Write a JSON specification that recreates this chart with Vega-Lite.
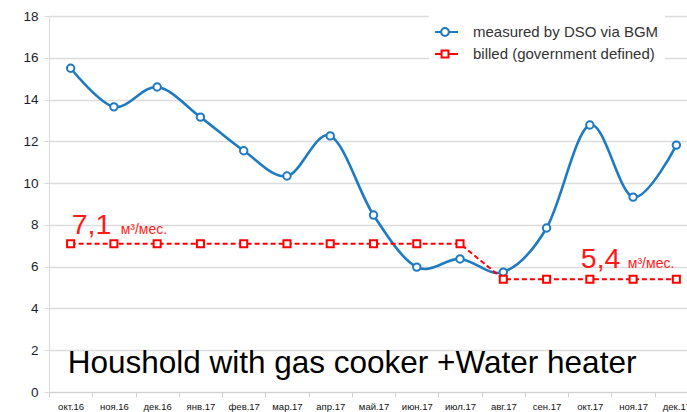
{
  "$schema": "https://vega.github.io/schema/vega-lite/v6.json",
  "width": 649,
  "height": 376,
  "autosize": {"type": "none"},
  "padding": {"left": 49, "top": 16, "right": 0, "bottom": 20},
  "background": "white",
  "datasets": {
    "series": [
      {"month": "окт.16", "series": "measured by DSO via BGM", "value": 15.5},
      {"month": "ноя.16", "series": "measured by DSO via BGM", "value": 13.65},
      {"month": "дек.16", "series": "measured by DSO via BGM", "value": 14.6},
      {"month": "янв.17", "series": "measured by DSO via BGM", "value": 13.16},
      {"month": "фев.17", "series": "measured by DSO via BGM", "value": 11.55},
      {"month": "мар.17", "series": "measured by DSO via BGM", "value": 10.34},
      {"month": "апр.17", "series": "measured by DSO via BGM", "value": 12.26},
      {"month": "май.17", "series": "measured by DSO via BGM", "value": 8.47},
      {"month": "июн.17", "series": "measured by DSO via BGM", "value": 5.98},
      {"month": "июл.17", "series": "measured by DSO via BGM", "value": 6.37},
      {"month": "авг.17", "series": "measured by DSO via BGM", "value": 5.74},
      {"month": "сен.17", "series": "measured by DSO via BGM", "value": 7.85},
      {"month": "окт.17", "series": "measured by DSO via BGM", "value": 12.78},
      {"month": "ноя.17", "series": "measured by DSO via BGM", "value": 9.33},
      {"month": "дек.17", "series": "measured by DSO via BGM", "value": 11.82},
      {"month": "окт.16", "series": "billed (government defined)", "value": 7.1},
      {"month": "ноя.16", "series": "billed (government defined)", "value": 7.1},
      {"month": "дек.16", "series": "billed (government defined)", "value": 7.1},
      {"month": "янв.17", "series": "billed (government defined)", "value": 7.1},
      {"month": "фев.17", "series": "billed (government defined)", "value": 7.1},
      {"month": "мар.17", "series": "billed (government defined)", "value": 7.1},
      {"month": "апр.17", "series": "billed (government defined)", "value": 7.1},
      {"month": "май.17", "series": "billed (government defined)", "value": 7.1},
      {"month": "июн.17", "series": "billed (government defined)", "value": 7.1},
      {"month": "июл.17", "series": "billed (government defined)", "value": 7.1},
      {"month": "авг.17", "series": "billed (government defined)", "value": 5.4},
      {"month": "сен.17", "series": "billed (government defined)", "value": 5.4},
      {"month": "окт.17", "series": "billed (government defined)", "value": 5.4},
      {"month": "ноя.17", "series": "billed (government defined)", "value": 5.4},
      {"month": "дек.17", "series": "billed (government defined)", "value": 5.4}
    ],
    "note1": [
      {"month": "окт.16", "value": 7.56, "big": "7,1", "unit": "м³/мес."}
    ],
    "note2": [
      {"month": "окт.17", "value": 5.94, "big": "5,4", "unit": "м³/мес."}
    ],
    "caption": [
      {"month": "окт.16", "value": 0.91, "text": "Houshold with gas cooker +Water heater"}
    ]
  },
  "encoding": {
    "x": {
      "field": "month",
      "type": "ordinal",
      "sort": ["окт.16","ноя.16","дек.16","янв.17","фев.17","мар.17","апр.17","май.17","июн.17","июл.17","авг.17","сен.17","окт.17","ноя.17","дек.17"],
      "scale": {"type": "band", "paddingInner": 0, "paddingOuter": 0},
      "axis": {
        "title": null,
        "labelAngle": 0,
        "labelFont": "Liberation Sans",
        "labelFontSize": 9.5,
        "labelColor": "#111111",
        "labelPadding": 4,
        "tickBand": "extent",
        "tickSize": 5,
        "tickColor": "#d0d0d0",
        "domainColor": "#d0d0d0",
        "grid": false
      }
    },
    "y": {
      "field": "value",
      "type": "quantitative",
      "scale": {"domain": [0, 18], "nice": false},
      "axis": {
        "title": null,
        "values": [0, 2, 4, 6, 8, 10, 12, 14, 16, 18],
        "labelFont": "Liberation Sans",
        "labelFontSize": 13.5,
        "labelColor": "#1a1f2e",
        "labelPadding": 6,
        "tickSize": 5,
        "tickColor": "#d9d9d9",
        "domainColor": "#d9d9d9",
        "gridColor": "#dcdcdc",
        "gridWidth": 1.3
      }
    }
  },
  "layer": [
    {
      "data": {"name": "series"},
      "mark": {"type": "point", "opacity": 0, "size": 300},
      "encoding": {
        "stroke": {
          "field": "series",
          "type": "nominal",
          "scale": {"domain": ["measured by DSO via BGM", "billed (government defined)"], "range": ["#1f7bc1", "#ff0000"]}
        },
        "shape": {
          "field": "series",
          "type": "nominal",
          "scale": {
            "domain": ["measured by DSO via BGM", "billed (government defined)"],
            "range": [
              "M-1.5,0H-0.45M0.45,0H1.5M-0.45,0A0.45,0.45 0 1,1 0.45,0A0.45,0.45 0 1,1 -0.45,0",
              "M-1.5,0H-0.4M0.4,0H1.5M-0.4,-0.4H0.4V0.4H-0.4Z"
            ]
          }
        }
      }
    },
    {
      "data": {"name": "series"},
      "transform": [{"filter": "datum.series === 'measured by DSO via BGM'"}],
      "mark": {"type": "line", "interpolate": "cardinal", "tension": 0, "strokeWidth": 2.6},
      "encoding": {
        "stroke": {"field": "series", "type": "nominal"}
      }
    },
    {
      "data": {"name": "series"},
      "transform": [{"filter": "datum.series === 'billed (government defined)'"}],
      "mark": {"type": "line", "strokeWidth": 2, "strokeDash": [5, 3]},
      "encoding": {
        "stroke": {"field": "series", "type": "nominal"}
      }
    },
    {
      "data": {"name": "series"},
      "transform": [{"filter": "datum.series === 'measured by DSO via BGM'"}],
      "mark": {"type": "point", "shape": "circle", "fill": "white", "fillOpacity": 1, "opacity": 1, "strokeWidth": 2, "size": 55},
      "encoding": {
        "stroke": {"field": "series", "type": "nominal"}
      }
    },
    {
      "data": {"name": "series"},
      "transform": [{"filter": "datum.series === 'billed (government defined)'"}],
      "mark": {"type": "point", "shape": "square", "fill": "white", "fillOpacity": 1, "opacity": 1, "strokeWidth": 2, "size": 50},
      "encoding": {
        "stroke": {"field": "series", "type": "nominal"}
      }
    },
    {
      "data": {"name": "note1"},
      "mark": {"type": "text", "font": "Liberation Sans", "fontSize": 28.5, "color": "#ff1a1a", "align": "left", "baseline": "alphabetic", "dx": 1},
      "encoding": {"text": {"field": "big"}}
    },
    {
      "data": {"name": "note1"},
      "mark": {"type": "text", "font": "Liberation Sans", "fontSize": 14, "color": "#ff1a1a", "align": "left", "baseline": "alphabetic", "dx": 50},
      "encoding": {"text": {"field": "unit"}}
    },
    {
      "data": {"name": "note2"},
      "mark": {"type": "text", "font": "Liberation Sans", "fontSize": 28.5, "color": "#ff1a1a", "align": "left", "baseline": "alphabetic", "dx": -9},
      "encoding": {"text": {"field": "big"}}
    },
    {
      "data": {"name": "note2"},
      "mark": {"type": "text", "font": "Liberation Sans", "fontSize": 14, "color": "#ff1a1a", "align": "left", "baseline": "alphabetic", "dx": 38},
      "encoding": {"text": {"field": "unit"}}
    },
    {
      "data": {"name": "caption"},
      "mark": {"type": "text", "font": "Liberation Sans", "fontSize": 31.5, "color": "#000000", "align": "left", "baseline": "alphabetic", "dx": -3},
      "encoding": {"text": {"field": "text"}}
    }
  ],
  "config": {
    "view": {"stroke": null},
    "legend": {
      "title": null,
      "orient": "none",
      "legendX": 380,
      "legendY": -1,
      "fillColor": "white",
      "padding": 6,
      "labelFont": "Liberation Sans",
      "labelFontSize": 15,
      "labelColor": "#333333",
      "labelLimit": 400,
      "labelOffset": 18,
      "symbolSize": 300,
      "symbolStrokeWidth": 2,
      "symbolFillColor": "white",
      "symbolOpacity": 1,
      "clipHeight": 22,
      "rowPadding": 0
    }
  }
}
